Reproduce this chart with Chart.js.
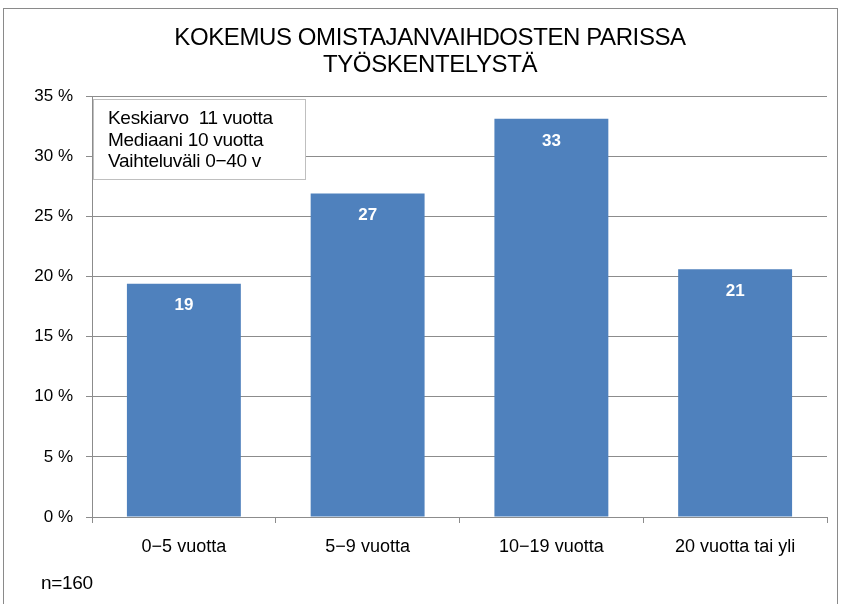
<!DOCTYPE html>
<html>
<head>
<meta charset="utf-8">
<script src="https://cdn.jsdelivr.net/npm/chart.js@4"></script>
<style>
  html, body { margin: 0; padding: 0; background: #fff; }
  #wrap { position: relative; width: 841px; height: 604px; }
</style>
</head>
<body>
<div id="wrap"><canvas id="chart" width="841" height="604"></canvas></div>
<script>
// tiedot kuvasta
const categories = ['0\u22125 vuotta', '5\u22129 vuotta', '10\u221219 vuotta', '20 vuotta tai yli'];
const shares = [19.4, 26.9, 33.1, 20.6];
const barLabels = ['19', '27', '33', '21'];
const titleLines = ['KOKEMUS OMISTAJANVAIHDOSTEN PARISSA', 'TYÖSKENTELYSTÄ'];
const noteLines = ['Keskiarvo  11 vuotta', 'Mediaani 10 vuotta', 'Vaihteluväli 0\u221240 v'];
const sampleText = 'n=160';

const FONT = "'Liberation Sans', Arial, sans-serif";
const GRID = '#8c8c8c';

// kehys, otsikko, selite ja n
const decorPlugin = {
    id: 'decor',
    beforeDraw(chart) {
        const ctx = chart.ctx;
        ctx.save();
        ctx.fillStyle = '#fff';
        ctx.fillRect(0, 0, chart.width, chart.height);
        ctx.strokeStyle = '#8a8a8a';
        ctx.lineWidth = 1;
        ctx.strokeRect(3.5, 8.5, 834, 640);
        ctx.restore();
    },
    afterDraw(chart) {
        const ctx = chart.ctx;
        ctx.save();
        ctx.fillStyle = '#000';
        ctx.textAlign = 'center';
        ctx.textBaseline = 'middle';
        ctx.font = '24px ' + FONT;
        ctx.letterSpacing = '-0.4px';
        ctx.fillText(titleLines[0], 430, 38);
        ctx.fillText(titleLines[1], 430, 65);
        ctx.letterSpacing = '0px';

        // selitelaatikko
        ctx.fillStyle = '#fff';
        ctx.fillRect(93, 99, 212, 80);
        ctx.strokeStyle = '#bfbfbf';
        ctx.strokeRect(93.5, 99.5, 212, 80);
        ctx.fillStyle = '#000';
        ctx.textAlign = 'left';
        ctx.font = '19px ' + FONT;
        ctx.letterSpacing = '-0.3px';
        noteLines.forEach((t, i) => ctx.fillText(t, 108, 119 + i * 21.5));

        ctx.font = '19px ' + FONT;
        ctx.fillText(sampleText, 41, 584);
        ctx.restore();
    }
};

// pylväiden arvot valkoisella
const valuePlugin = {
    id: 'values',
    afterDatasetsDraw(chart) {
        const ctx = chart.ctx;
        const meta = chart.getDatasetMeta(0);
        ctx.save();
        ctx.fillStyle = '#fff';
        ctx.font = 'bold 17px ' + FONT;
        ctx.textAlign = 'center';
        ctx.textBaseline = 'middle';
        meta.data.forEach((bar, i) => {
            ctx.fillText(barLabels[i], bar.x, bar.y + 22);
        });
        ctx.restore();
    }
};

new Chart(document.getElementById('chart'), {
    type: 'bar',
    data: {
        labels: categories,
        datasets: [{
            data: shares,
            backgroundColor: '#4f81bd',
            borderWidth: 0,
            barPercentage: 0.62,
            categoryPercentage: 1
        }]
    },
    options: {
        responsive: false,
        animation: false,
        layout: { padding: { top: 96, right: 14, left: 0, bottom: 0 } },
        plugins: {
            legend: { display: false },
            tooltip: { enabled: false },
            title: { display: false }
        },
        scales: {
            x: {
                afterFit: s => { s.height = 87; },
                grid: {
                    offset: true,
                    drawOnChartArea: false,
                    drawTicks: true,
                    tickLength: 6,
                    color: GRID
                },
                border: { color: GRID, width: 1 },
                ticks: {
                    color: '#000',
                    padding: 13,
                    font: { family: FONT, size: 18 }
                }
            },
            y: {
                min: 0,
                max: 35,
                afterFit: s => { s.width = 92; },
                grid: {
                    color: GRID,
                    tickLength: 6
                },
                border: { color: GRID, width: 1 },
                ticks: {
                    stepSize: 5,
                    color: '#000',
                    padding: 13,
                    font: { family: FONT, size: 17 },
                    callback: v => v + ' %'
                }
            }
        }
    },
    plugins: [decorPlugin, valuePlugin]
});
</script>
</body>
</html>
